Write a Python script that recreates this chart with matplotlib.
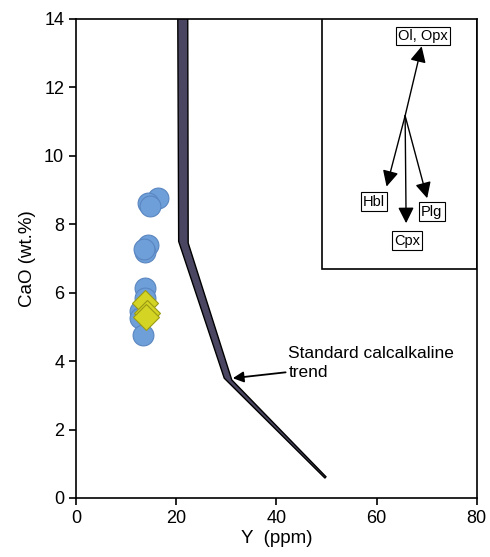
# CaO vs Y diagram with standard calcalkaline trend
import matplotlib.pyplot as plt
from matplotlib.patches import Polygon, Rectangle

plt.rcParams['font.family'] = ['Liberation Sans', 'DejaVu Sans']

# samples (circles)
y_circ = [16.4, 14.4, 14.8, 14.4, 13.8, 13.6, 13.8, 13.8, 12.8, 12.8, 13.4]
cao_circ = [8.78, 8.62, 8.52, 7.40, 7.20, 7.28, 6.13, 5.84, 5.45, 5.25, 4.77]
# samples (diamonds)
y_diam = [13.8, 14.1, 14.0]
cao_diam = [5.69, 5.40, 5.30]

# standard calcalkaline trend band (left edge then right edge)
trend_y = [20.3, 20.5, 29.6, 49.7, 49.9, 31.1, 22.4, 22.3]
trend_cao = [15.0, 7.5, 3.5, 0.58, 0.62, 3.45, 7.45, 15.0]

# fractionation vectors in the inset
vec_origin = (65.7, 11.17)
vec_names = ['Ol, Opx', 'Hbl', 'Cpx', 'Plg']
vec_tips = [(69.0, 13.2), (62.0, 9.1), (65.9, 8.03), (70.1, 8.76)]
vec_labels = [(69.3, 13.5), (59.5, 8.66), (66.1, 7.52), (71.0, 8.37)]

fig = plt.figure(figsize=(4.9, 5.57), dpi=100)
ax = fig.add_axes([0.155, 0.106, 0.818, 0.860])

ax.add_patch(Polygon(list(zip(trend_y, trend_cao)), closed=True,
                     facecolor='#4a4662', edgecolor='black', lw=1.0, zorder=2))

ax.plot(y_circ, cao_circ, 'o', ms=15, mfc='#6e9fd9', mec='#5a86c0', mew=0.8, zorder=3)
ax.plot(y_diam, cao_diam, 'D', ms=13, mfc='#d4d424', mec='#9a9a14', mew=0.8, zorder=4)

# trend label
ax.annotate('Standard calcalkaline\ntrend', xy=(31.3, 3.5), xytext=(42.4, 3.95),
            fontsize=12.5, ha='left', va='center', linespacing=1.3,
            arrowprops=dict(arrowstyle='-|>', color='black', lw=1.3,
                            mutation_scale=16, shrinkA=0, shrinkB=0))

# inset box
ax.add_patch(Rectangle((49.1, 6.7), 31.0, 7.5, facecolor='none',
                       edgecolor='black', lw=1.2, zorder=5))
for name, tip, lab in zip(vec_names, vec_tips, vec_labels):
    ax.annotate('', xy=tip, xytext=vec_origin,
                arrowprops=dict(arrowstyle='-|>', color='black', lw=1.0,
                                mutation_scale=24, shrinkA=0, shrinkB=0))
    ax.text(lab[0], lab[1], name, fontsize=10.5, ha='center', va='center',
            bbox=dict(boxstyle='square,pad=0.15', fc='white', ec='black', lw=0.8))

ax.set_xlim(0, 80)
ax.set_ylim(0, 14)
ax.set_xticks([0, 20, 40, 60, 80])
ax.set_yticks([0, 2, 4, 6, 8, 10, 12, 14])
ax.tick_params(direction='out', length=5, width=1.2, labelsize=13)
for s in ax.spines.values():
    s.set_linewidth(1.2)

ax.set_xlabel('Y  (ppm)', fontsize=13.5, labelpad=2)
ax.set_ylabel('CaO (wt.%)', fontsize=13.5, labelpad=6)

fig.savefig('out.png', dpi=100)
